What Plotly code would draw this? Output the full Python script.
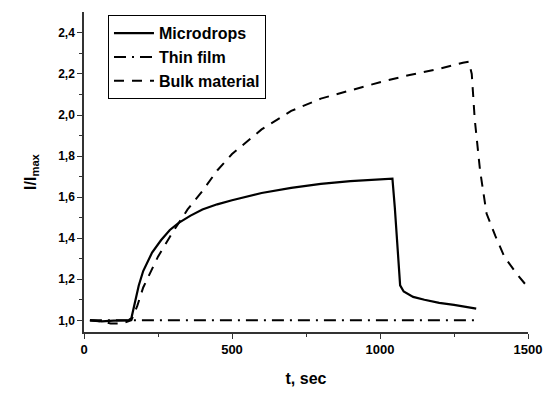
import plotly.graph_objects as go

# Microdrops (solid)
t_micro = [20, 60, 100, 150, 160, 170, 185, 200, 230, 260, 290, 320, 360, 400, 450, 500,
           600, 700, 800, 900, 1000, 1035, 1042, 1050, 1060, 1068, 1080, 1112, 1150, 1200,
           1250, 1300, 1325]
v_micro = [1.0, 0.995, 0.998, 1.0, 1.01, 1.08, 1.17, 1.24, 1.33, 1.39, 1.44, 1.475, 1.51,
           1.54, 1.565, 1.585, 1.62, 1.645, 1.665, 1.678, 1.688, 1.692, 1.69, 1.55, 1.35,
           1.17, 1.14, 1.114, 1.1, 1.085, 1.075, 1.065, 1.057]

# Thin film (dash-dot)
t_film = [20, 150, 300, 600, 900, 1000, 1320]
v_film = [1.0, 1.0, 0.997, 0.998, 0.998, 1.0, 1.0]

# Bulk material (dashed)
t_bulk = [20, 60, 90, 130, 160, 180, 200, 250, 300, 350, 400, 450, 500, 600, 700, 800,
          900, 1000, 1100, 1200, 1280, 1300, 1310, 1320, 1338, 1360, 1390, 1420, 1460, 1500]
v_bulk = [1.0, 0.995, 0.985, 0.985, 1.0, 1.07, 1.16, 1.31, 1.43, 1.54, 1.63, 1.73, 1.81,
          1.93, 2.02, 2.08, 2.12, 2.16, 2.195, 2.225, 2.255, 2.26, 2.2, 1.98, 1.73, 1.52,
          1.41, 1.31, 1.23, 1.16]

y_tickvals = [1.0, 1.2, 1.4, 1.6, 1.8, 2.0, 2.2, 2.4]
y_ticktext = ["1,0", "1,2", "1,4", "1,6", "1,8", "2,0", "2,2", "2,4"]
x_tickvals = [0, 500, 1000, 1500]

fig = go.Figure()
fig.add_trace(go.Scatter(x=t_micro, y=v_micro, mode="lines", name="Microdrops",
                         line=dict(color="black", width=2.2, dash="solid")))
fig.add_trace(go.Scatter(x=t_film, y=v_film, mode="lines", name="Thin film",
                         line=dict(color="black", width=2, dash="12px,6px,2px,6px")))
fig.add_trace(go.Scatter(x=t_bulk, y=v_bulk, mode="lines", name="Bulk material",
                         line=dict(color="black", width=2, dash="10px,8px")))

font_family = "Liberation Sans, Arial, sans-serif"
fig.update_layout(
    width=544, height=393,
    margin=dict(l=84, r=16, t=12, b=61),
    plot_bgcolor="white", paper_bgcolor="white",
    font=dict(family=font_family, color="black"),
    showlegend=True,
    legend=dict(x=0.054, y=0.99, xanchor="left", yanchor="top",
                bgcolor="white", bordercolor="black", borderwidth=1,
                font=dict(size=16, family=font_family, weight="bold"),
                tracegroupgap=0, itemwidth=40, valign="middle"),
    xaxis=dict(range=[0, 1500], tickvals=x_tickvals, showline=True, linecolor="#333",
               automargin=False,
               linewidth=1.5, ticks="outside", ticklen=5, tickwidth=1.2, tickcolor="#333",
               minor=dict(ticks="outside", ticklen=3, dtick=250, tickcolor="#333", showgrid=False),
               showgrid=False, zeroline=False,
               tickfont=dict(size=13, family=font_family, weight="bold"),
               title=dict(text="<b>t, sec</b>", font=dict(size=16), standoff=16)),
    yaxis=dict(range=[0.943, 2.502], tickvals=y_tickvals, ticktext=y_ticktext,
               automargin=False,
               showline=True, linecolor="#333", linewidth=1.5, ticks="outside", ticklen=5,
               tickwidth=1.2, tickcolor="#333",
               minor=dict(ticks="outside", ticklen=3, tickvals=[1.1, 1.3, 1.5, 1.7, 1.9, 2.1, 2.3],
                          tickcolor="#333", showgrid=False),
               showgrid=False, zeroline=False,
               tickfont=dict(size=12, family=font_family, weight="bold"),
               title=dict(text="<b>I/I<sub>max</sub></b>", font=dict(size=16), standoff=18)),
)

fig.write_html("out.html")
